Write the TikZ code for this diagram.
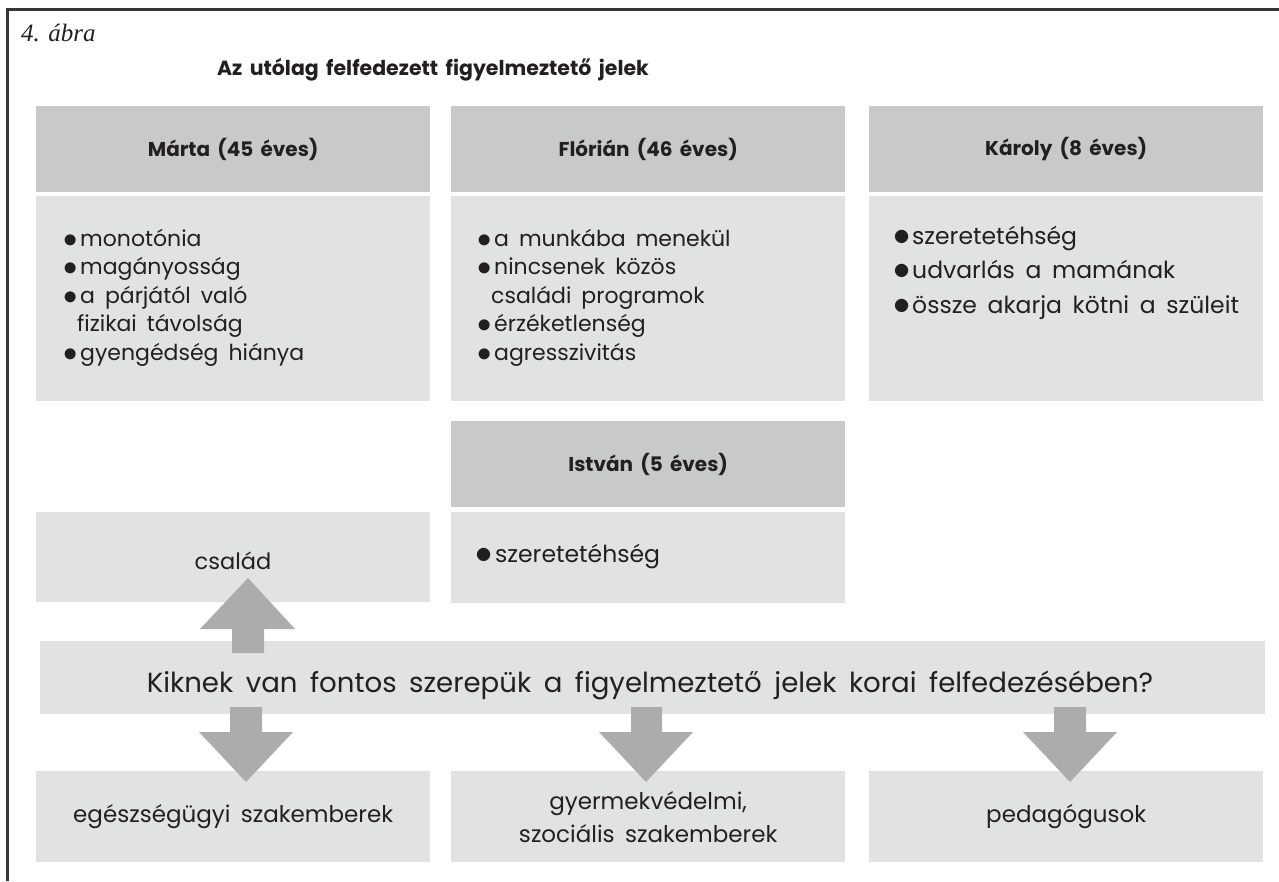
\documentclass[tikz,border=0pt]{standalone}
\usepackage{fontspec}
\usepackage{graphicx}
\setmainfont{Poppins}[WordSpace=1.7]
\newfontfamily\capfont{Liberation Serif}
\definecolor{hdrgray}{HTML}{C8C9CB}
\definecolor{bodygray}{HTML}{E1E2E4}
\definecolor{arrgray}{HTML}{ABACAE}
\definecolor{ink}{HTML}{231F20}
\newlength\bulw \setlength\bulw{13pt}
\newcommand\bul{\makebox[\bulw][l]{\hspace{-3.6pt}\raisebox{-1.3pt}{\scalebox{1.38}{$\bullet$}}}}
\newcommand\li[1]{\hbox{\bul#1}}
\newcommand\lc[1]{\hbox{\hspace{10pt}#1}}
\tikzset{
  hdr/.style={fill=hdrgray, inner sep=0pt, minimum width=394pt, minimum height=86pt, anchor=north west,
    text=ink, font=\bfseries\fontsize{20}{24}\selectfont},
  bodybox/.style={fill=bodygray, inner sep=0pt, minimum width=394pt, anchor=north west,
    text=ink, font=\fontsize{23}{27}\selectfont},
  listtext/.style={inner sep=0pt, anchor=base west, text=ink},
  blockarrow/.style={fill=arrgray, draw=none},
}
\begin{document}
\begin{tikzpicture}[x=1pt,y=-1pt]
\useasboundingbox (0,0) rectangle (1279,881);
\fill[white] (0,0) rectangle (1279,881);
% frame
\draw[line width=3pt, color=ink!90] (1279,9.5) -- (7,9.5) -- (7,881);
\node[anchor=base west, inner sep=0pt, text=ink, font=\capfont\itshape\fontsize{25}{28}\selectfont] (fig) at (21,41) {4. ábra};
\node[inner sep=0pt, text=ink, font=\bfseries\fontsize{20.5}{24}\selectfont] (title) at (433,70) {Az utólag felfedezett figyelmeztető jelek};

% headers
\node[hdr] (mh) at (36,106) {Márta (45 éves)};
\node[hdr] (fh) at (451,106) {Flórián (46 éves)};
\node[hdr] (kh) at (869,106) {Károly (8 éves)};
\node[hdr] (ih) at (451,421) {István (5 éves)};

% bodies
\node[bodybox, minimum height=205pt] (mb) at (36,196) {};
\node[bodybox, minimum height=205pt] (fb) at (451,196) {};
\node[bodybox, minimum height=205pt] (kb) at (869,196) {};
\node[bodybox, minimum height=91pt] (ib) at (451,512) {};
\node[bodybox, minimum height=90pt] (fam) at (36,512) {};
\node[anchor=base, inner sep=0pt, text=ink, font=\fontsize{22.5}{26}\selectfont] (famt) at (233,569) {család};

\node[listtext, font=\fontsize{22}{28.5}\selectfont] (mt) at (67,246) {\vtop{%
  \li{monotónia}\li{magányosság}\li{a párjától való}\lc{fizikai távolság}\li{gyengédség hiánya}}};
\node[listtext, font=\fontsize{22}{28.5}\selectfont] (ft) at (481,246) {\vtop{%
  \li{a munkába menekül}\li{nincsenek közös}\lc{családi programok}\li{érzéketlenség}\li{agresszivitás}}};
\node[listtext, font=\fontsize{23.5}{34.5}\selectfont] (kt) at (897,244) {\vtop{\setlength\bulw{15pt}%
  \li{szeretetéhség}\li{udvarlás a mamának}\li{össze akarja kötni a szüleit}}};
\node[listtext, font=\fontsize{23.5}{28.5}\selectfont] (it) at (479,562) {\vtop{\setlength\bulw{16pt}\li{szeretetéhség}}};

% question
\node[fill=bodygray, inner sep=0pt, minimum width=1225pt, minimum height=73pt, anchor=north west] (q) at (40,641) {};
\node[inner sep=0pt, anchor=base, text=ink, font=\fontsize{27.6}{34}\selectfont] (qt) at (650,692) {Kiknek van fontos szerepük a figyelmeztető jelek korai felfedezésében?};

% bottom boxes
\node[bodybox, minimum height=91pt, align=center] (b1) at (36,771) {egészségügyi szakemberek};
\node[bodybox, minimum height=91pt, align=center, font=\fontsize{23}{33}\selectfont] (b2) at (451,771) {gyermekvédelmi,\\szociális szakemberek};
\node[bodybox, minimum height=91pt, align=center] (b3) at (869,771) {pedagógusok};

% block arrows
\fill[blockarrow] (248,578) -- (295,629) -- (264,629) -- (264,653) -- (232,653) -- (232,629) -- (200,629) -- cycle;
\fill[blockarrow] (246,782) -- (293,732) -- (262,732) -- (262,707) -- (230,707) -- (230,732) -- (199,732) -- cycle;
\fill[blockarrow] (646,782) -- (693,732) -- (662,732) -- (662,707) -- (631,707) -- (631,732) -- (599,732) -- cycle;
\fill[blockarrow] (1070,782) -- (1117,732) -- (1086,732) -- (1086,707) -- (1054,707) -- (1054,732) -- (1023,732) -- cycle;
\end{tikzpicture}
\end{document}
